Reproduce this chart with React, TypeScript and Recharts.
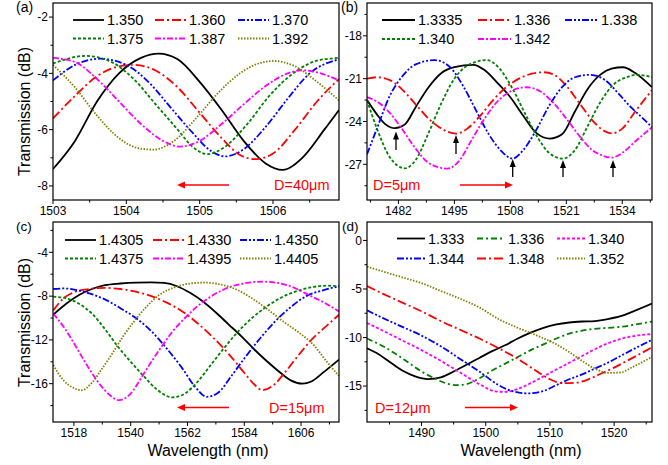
import { LineChart, Line, XAxis, YAxis } from "recharts";

type Pt = [number, number];

const W = 668;
const H = 465;
const FONT = "'Liberation Sans', Arial, sans-serif";

// ---- panel (a), D=40um
const aNames = ["1.350", "1.360", "1.370", "1.375", "1.387", "1.392"];
const a1350: Pt[] = [[1503, -7.4], [1503.3, -6.4], [1503.6, -5.0], [1503.9, -4.0], [1504.2, -3.45], [1504.44, -3.3], [1504.7, -3.5], [1505.0, -4.3], [1505.3, -5.3], [1505.6, -6.4], [1505.9, -7.2], [1506.13, -7.43], [1506.4, -7.0], [1506.7, -6.0], [1506.9, -5.3]];
const a1360: Pt[] = [[1503, -5.6], [1503.3, -4.8], [1503.6, -4.1], [1503.9, -3.75], [1504.1, -3.7], [1504.4, -3.9], [1504.7, -4.5], [1505.0, -5.4], [1505.3, -6.3], [1505.55, -6.9], [1505.75, -7.05], [1506.0, -6.85], [1506.3, -6.0], [1506.6, -5.0], [1506.9, -4.2]];
const a1370: Pt[] = [[1503, -4.25], [1503.3, -3.7], [1503.64, -3.48], [1504.0, -3.7], [1504.3, -4.3], [1504.6, -5.2], [1504.9, -6.1], [1505.15, -6.75], [1505.35, -6.95], [1505.6, -6.7], [1505.9, -5.9], [1506.2, -4.9], [1506.5, -4.0], [1506.9, -3.5]];
const a1375: Pt[] = [[1503, -3.65], [1503.44, -3.38], [1503.8, -3.6], [1504.1, -4.2], [1504.4, -5.1], [1504.7, -6.0], [1504.9, -6.6], [1505.1, -6.87], [1505.35, -6.6], [1505.65, -5.8], [1505.95, -4.8], [1506.3, -3.95], [1506.6, -3.55], [1506.9, -3.45]];
const a1387: Pt[] = [[1503, -3.45], [1503.3, -3.6], [1503.6, -4.2], [1503.9, -5.0], [1504.2, -5.8], [1504.5, -6.4], [1504.73, -6.6], [1505.0, -6.4], [1505.3, -5.8], [1505.6, -5.1], [1505.9, -4.45], [1506.2, -4.0], [1506.4, -3.89], [1506.65, -4.0], [1506.9, -4.25]];
const a1392: Pt[] = [[1503, -3.7], [1503.3, -4.5], [1503.6, -5.5], [1503.9, -6.3], [1504.15, -6.65], [1504.37, -6.71], [1504.65, -6.4], [1504.95, -5.6], [1505.25, -4.7], [1505.55, -4.0], [1505.8, -3.65], [1506.0, -3.56], [1506.3, -3.75], [1506.6, -4.3], [1506.9, -4.96]];
const aXTicks = [1503, 1503.5, 1504, 1504.5, 1505, 1505.5, 1506, 1506.5];
const aXMajor = [1503, 1504, 1505, 1506];
const aYTicks = [-2, -3, -4, -5, -6, -7, -8];
const aYMajor = [-2, -4, -6, -8];

// ---- panel (b), D=5um
const bNames = ["1.3335", "1.336", "1.338", "1.340", "1.342"];
const b13335: Pt[] = [[1474.7, -22.5], [1477, -23.5], [1479, -24.2], [1481.2, -24.47], [1483.5, -24.2], [1486, -23.0], [1489, -21.6], [1492, -20.6], [1495, -20.2], [1499.4, -20.03], [1502, -20.4], [1505, -21.3], [1508, -22.3], [1511, -23.6], [1514, -24.8], [1517.2, -25.2], [1520, -24.9], [1523, -23.3], [1526, -21.7], [1529, -20.7], [1531.5, -20.3], [1534.2, -20.2], [1537, -20.6], [1540.9, -21.6]];
const b1336: Pt[] = [[1474.7, -21.0], [1477, -20.9], [1480, -21.1], [1483, -21.8], [1486, -22.8], [1489, -23.8], [1492, -24.5], [1495.4, -24.85], [1498, -24.5], [1501, -23.6], [1504, -22.5], [1507, -21.6], [1510, -21.0], [1513, -20.65], [1515.7, -20.55], [1518, -20.7], [1521, -21.5], [1524, -22.7], [1527, -23.9], [1529.5, -24.6], [1531.5, -24.83], [1534, -24.5], [1537, -23.3], [1540.9, -21.8]];
const b1338: Pt[] = [[1474.7, -26.3], [1477, -24.5], [1480, -22.2], [1483, -20.8], [1486, -20.0], [1490.4, -19.7], [1494, -20.2], [1497, -21.5], [1500, -23.2], [1503, -24.9], [1506, -26.1], [1508.5, -26.6], [1511, -26.0], [1514, -24.6], [1517, -22.9], [1520, -21.6], [1523, -20.9], [1526.5, -20.73], [1530, -21.1], [1533, -22.0], [1536, -23.0], [1538.5, -23.7], [1540.9, -24.4]];
const b1340: Pt[] = [[1474.7, -22.5], [1477, -24.5], [1480, -26.5], [1483.5, -27.28], [1486, -26.7], [1489, -24.8], [1492, -22.7], [1495, -21.0], [1498.5, -20.0], [1502.5, -19.7], [1505.5, -20.3], [1508.5, -21.7], [1511.5, -23.5], [1514.5, -25.2], [1517, -26.2], [1520.2, -26.6], [1523, -26.0], [1526, -24.3], [1529, -22.6], [1532, -21.4], [1535, -20.9], [1537.3, -20.73], [1540.9, -20.9]];
const b1342: Pt[] = [[1474.7, -22.3], [1477, -22.6], [1480, -23.4], [1483, -24.6], [1486, -25.9], [1489, -26.9], [1493.4, -27.3], [1496, -26.8], [1499, -25.3], [1502, -23.8], [1505, -22.6], [1508, -21.9], [1511.8, -21.6], [1515, -21.9], [1518, -22.7], [1521, -23.8], [1524, -25.0], [1527, -26.0], [1529.5, -26.4], [1531.5, -26.53], [1534, -26.2], [1537, -25.4], [1540.9, -24.4]];
const bXTicks = [1475.5, 1482, 1488.5, 1495, 1501.5, 1508, 1514.5, 1521, 1527.5, 1534, 1540.5];
const bXMajor = [1482, 1495, 1508, 1521, 1534];
const bYTicks = [-16.5, -18, -19.5, -21, -22.5, -24, -25.5, -27, -28.5];
const bYMajor = [-18, -21, -24, -27];

// ---- panel (c), D=15um
const cNames = ["1.4305", "1.4330", "1.4350", "1.4375", "1.4395", "1.4405"];
const c14305: Pt[] = [[1510, -9.7], [1515, -8.7], [1520, -7.9], [1525, -7.35], [1530, -7.0], [1536, -6.85], [1542, -6.77], [1548, -6.75], [1553, -6.8], [1558, -7.1], [1563, -7.7], [1568, -8.5], [1573, -9.5], [1578, -10.6], [1583, -11.7], [1588, -12.9], [1593, -14.0], [1598, -15.0], [1602, -15.7], [1606.5, -16.0], [1610, -15.8], [1615, -14.9], [1620.7, -13.8]];
const c14330: Pt[] = [[1510, -9.3], [1514, -8.2], [1518, -7.65], [1524, -7.35], [1530, -7.25], [1536, -7.35], [1542, -7.6], [1548, -8.0], [1554, -8.6], [1560, -9.4], [1566, -10.5], [1572, -11.8], [1578, -13.3], [1584, -15.0], [1588, -16.1], [1591, -16.6], [1595, -16.2], [1600, -14.9], [1605, -13.4], [1610, -12.0], [1615, -10.9], [1620.7, -9.7]];
const c14350: Pt[] = [[1510, -7.35], [1514, -7.3], [1518, -7.4], [1524, -7.75], [1530, -8.3], [1536, -9.1], [1542, -10.0], [1548, -11.2], [1554, -12.8], [1560, -14.6], [1565, -16.3], [1569.4, -17.2], [1574, -16.8], [1579, -15.3], [1584, -13.7], [1590, -11.9], [1596, -10.3], [1602, -9.0], [1608, -8.0], [1614, -7.5], [1620.7, -7.1]];
const c14375: Pt[] = [[1510, -8.05], [1515, -8.2], [1520, -8.7], [1525, -9.6], [1530, -11.0], [1535, -12.6], [1540, -14.0], [1545, -15.3], [1550, -16.5], [1556, -17.25], [1561, -16.9], [1566, -15.8], [1571, -14.3], [1576, -12.8], [1581, -11.4], [1587, -10.0], [1593, -8.9], [1599, -8.05], [1605, -7.5], [1611, -7.15], [1616, -7.05], [1620.7, -7.1]];
const c14395: Pt[] = [[1510, -9.6], [1514, -10.8], [1518, -12.3], [1522, -13.9], [1526, -15.4], [1530, -16.6], [1535.5, -17.5], [1540, -16.9], [1544, -15.5], [1548, -14.0], [1552, -12.6], [1556, -11.3], [1561, -10.0], [1566, -8.9], [1572, -7.9], [1578, -7.2], [1585, -6.8], [1591, -6.68], [1597, -6.8], [1603, -7.2], [1609, -7.9], [1615, -8.6], [1620.7, -9.4]];
const c14405: Pt[] = [[1510, -14.3], [1514, -15.7], [1518, -16.4], [1521, -16.6], [1525, -15.9], [1529, -14.6], [1533, -13.2], [1537, -11.7], [1541, -10.4], [1546, -9.0], [1551, -7.9], [1557, -7.2], [1563, -6.85], [1569, -6.77], [1575, -6.95], [1581, -7.4], [1587, -8.2], [1593, -9.2], [1599, -10.3], [1605, -11.3], [1611, -12.5], [1616, -14.0], [1620.7, -15.3]];
const cXTicks = [1518, 1529, 1540, 1551, 1562, 1573, 1584, 1595, 1606, 1617];
const cXMajor = [1518, 1540, 1562, 1584, 1606];
const cYTicks = [-2, -4, -6, -8, -10, -12, -14, -16, -18];
const cYMajor = [-4, -8, -12, -16];

// ---- panel (d), D=12um
const dNames = ["1.333", "1.336", "1.340", "1.344", "1.348", "1.352"];
const d1333: Pt[] = [[1481.5, -11.1], [1483, -11.6], [1485, -12.5], [1487, -13.4], [1489, -14.0], [1491, -14.28], [1493, -14.1], [1495, -13.5], [1497, -12.8], [1499, -12.1], [1501, -11.4], [1503, -10.8], [1505, -10.1], [1507, -9.5], [1509, -9.0], [1511, -8.65], [1513, -8.45], [1515, -8.35], [1517, -8.3], [1519, -8.1], [1521, -7.8], [1523, -7.3], [1525.9, -6.5]];
const d1336: Pt[] = [[1481.5, -10.1], [1484, -10.9], [1486, -11.7], [1488, -12.6], [1490, -13.5], [1492, -14.2], [1494, -14.75], [1495.5, -14.9], [1497, -14.8], [1499, -14.2], [1501, -13.4], [1503, -12.7], [1505, -12.0], [1507, -11.3], [1509, -10.7], [1511, -10.1], [1513, -9.6], [1515, -9.3], [1517, -9.1], [1519, -9.0], [1521, -8.9], [1523, -8.7], [1525.9, -8.35]];
const d1340: Pt[] = [[1481.5, -8.5], [1484, -9.3], [1487, -10.3], [1490, -11.3], [1493, -12.4], [1496, -13.6], [1499, -14.8], [1501.5, -15.55], [1503, -15.6], [1505, -15.3], [1507, -14.7], [1509, -14.0], [1511, -13.3], [1513, -12.6], [1515, -11.9], [1517, -11.2], [1519, -10.6], [1521, -10.15], [1523, -9.85], [1525.9, -9.65]];
const d1344: Pt[] = [[1481.5, -7.2], [1484, -8.0], [1487, -8.9], [1490, -9.8], [1493, -10.9], [1496, -12.2], [1499, -13.5], [1502, -14.9], [1504, -15.5], [1506.5, -15.75], [1509, -15.5], [1511, -14.9], [1513, -14.3], [1515, -13.8], [1517, -13.2], [1519, -12.6], [1521, -11.9], [1523, -11.2], [1525.9, -10.25]];
const d1348: Pt[] = [[1481.5, -4.7], [1484, -5.5], [1487, -6.4], [1490, -7.3], [1493, -8.3], [1496, -9.2], [1499, -10.1], [1502, -11.1], [1505, -12.2], [1508, -13.5], [1510, -14.3], [1512, -14.7], [1514, -14.65], [1516, -14.3], [1518, -13.7], [1520, -13.1], [1522, -12.4], [1524, -11.7], [1525.9, -11.0]];
const d1352: Pt[] = [[1481.5, -2.7], [1484, -3.2], [1487, -3.8], [1490, -4.4], [1493, -5.2], [1496, -6.0], [1499, -6.9], [1502, -8.1], [1505, -9.0], [1508, -9.8], [1511, -10.7], [1513, -11.5], [1515, -12.4], [1517, -13.2], [1519, -13.65], [1521, -13.6], [1523, -13.0], [1525.9, -12.0]];
const dXTicks = [1485, 1490, 1495, 1500, 1505, 1510, 1515, 1520, 1525];
const dXMajor = [1490, 1500, 1510, 1520];
const dYTicks = [0, -2.5, -5, -7.5, -10, -12.5, -15, -17.5];
const dYMajor = [0, -5, -10, -15];

// line styles
const SOLID = { color: "#000000", dash: undefined as string | undefined };
const RED = { color: "#ff0000", dash: "9 3 2 3" };
const BLUE = { color: "#0000ff", dash: "7 2 2 2 2 2" };
const GREEN = { color: "#008000", dash: "3 2" };
const MAGENTA = { color: "#ff00ff", dash: "6 2 2 2" };
const OLIVE = { color: "#808000", dash: "1.5 1.5" };
const GREEN_DD = { color: "#008000", dash: "6 3 2 3" };
const MAGENTA_D = { color: "#ff00ff", dash: "3 2" };

type Style = { color: string; dash?: string };
type Series = { name: string; pts: Pt[]; style: Style };

const mk = (names: string[], pts: Pt[][], styles: Style[]): Series[] =>
  names.map((n, i) => ({ name: n, pts: pts[i], style: styles[i] }));

const aSeries = mk(aNames, [a1350, a1360, a1370, a1375, a1387, a1392], [SOLID, RED, BLUE, GREEN, MAGENTA, OLIVE]);
const bSeries = mk(bNames, [b13335, b1336, b1338, b1340, b1342], [SOLID, RED, BLUE, GREEN, MAGENTA]);
const cSeries = mk(cNames, [c14305, c14330, c14350, c14375, c14395, c14405], [SOLID, RED, BLUE, GREEN, MAGENTA, OLIVE]);
const dSeries = mk(dNames, [d1333, d1336, d1340, d1344, d1348, d1352], [SOLID, GREEN_DD, MAGENTA_D, BLUE, RED, OLIVE]);

type Box = [number, number, number, number];
const boxA: Box = [53, 3, 339, 200];
const boxB: Box = [367, 3, 652, 200];
const boxC: Box = [53, 222, 339, 422];
const boxD: Box = [367, 222, 652, 422];

const isMajor = (majors: number[], v: number) => majors.some((m) => Math.abs(m - v) < 1e-6);

const bottomTick = (majors: number[]) => (props: any) => {
  const { x, y, payload } = props;
  const major = isMajor(majors, payload.value);
  return (
    <g>
      <line x1={x} y1={y} x2={x} y2={y + (major ? 4 : 2.5)} stroke="#000" />
      {major && (
        <text x={x} y={y + 15} textAnchor="middle" fontSize={12} fontFamily={FONT} fill="#000">
          {payload.value}
        </text>
      )}
    </g>
  );
};

const leftTick = (majors: number[]) => (props: any) => {
  const { x, y, payload } = props;
  const major = isMajor(majors, payload.value);
  return (
    <g>
      <line x1={x} y1={y} x2={x - (major ? 4 : 2.5)} y2={y} stroke="#000" />
      {major && (
        <text x={x - 5} y={y} dy="0.35em" textAnchor="end" fontSize={12} fontFamily={FONT} fill="#000">
          {payload.value}
        </text>
      )}
    </g>
  );
};

function Panel(p: {
  box: Box;
  xDomain: [number, number];
  yDomain: [number, number];
  xTicks: number[];
  xMajor: number[];
  yTicks: number[];
  yMajor: number[];
  series: Series[];
}) {
  const [x0, y0, x1, y1] = p.box;
  const margin = { left: x0 - 40, top: y0, right: W - x1, bottom: H - y1 - 20 };
  return (
    <div style={{ position: "absolute", left: 0, top: 0 }}>
      <LineChart width={W} height={H} margin={margin}>
        <XAxis
          type="number"
          dataKey="x"
          domain={p.xDomain}
          ticks={p.xTicks}
          interval={0}
          allowDataOverflow
          height={20}
          tickSize={0}
          tickMargin={0}
          axisLine={false}
          tickLine={false}
          tick={bottomTick(p.xMajor)}
        />
        <YAxis
          type="number"
          dataKey="y"
          domain={p.yDomain}
          ticks={p.yTicks}
          interval={0}
          allowDataOverflow
          width={40}
          tickSize={0}
          tickMargin={0}
          axisLine={false}
          tickLine={false}
          tick={leftTick(p.yMajor)}
        />
        {p.series.map((s) => (
          <Line
            key={s.name}
            data={s.pts.map(([x, y]) => ({ x, y }))}
            dataKey="y"
            type="monotone"
            stroke={s.style.color}
            strokeDasharray={s.style.dash}
            strokeWidth={1.8}
            dot={false}
            isAnimationActive={false}
          />
        ))}
      </LineChart>
    </div>
  );
}

function Legend({ series, cols, rows, len }: { series: Series[]; cols: number[]; rows: number[]; len: number }) {
  return (
    <g>
      {series.map((s, i) => {
        const x = cols[i % 3];
        const y = rows[Math.floor(i / 3)];
        return (
          <g key={s.name}>
            <line x1={x} y1={y} x2={x + len} y2={y} stroke={s.style.color} strokeDasharray={s.style.dash} strokeWidth={1.8} />
            <text x={x + len + 3} y={y} dy="0.35em" fontSize={14.5} fontFamily={FONT} fill="#000">
              {s.name}
            </text>
          </g>
        );
      })}
    </g>
  );
}

function Arrow({ x1, x2, y, color }: { x1: number; x2: number; y: number; color: string }) {
  const d = x2 > x1 ? 1 : -1;
  return (
    <g>
      <line x1={x1} y1={y} x2={x2 - d * 6} y2={y} stroke={color} strokeWidth={1.5} />
      <polygon points={`${x2},${y} ${x2 - d * 8},${y - 3.5} ${x2 - d * 8},${y + 3.5}`} fill={color} />
    </g>
  );
}

function UpArrow({ x, y1, y2 }: { x: number; y1: number; y2: number }) {
  return (
    <g>
      <line x1={x} y1={y2} x2={x} y2={y1 + 5} stroke="#000" strokeWidth={1.3} />
      <polygon points={`${x},${y1} ${x - 3},${y1 + 8} ${x + 3},${y1 + 8}`} fill="#000" />
    </g>
  );
}

function Frame({ box }: { box: Box }) {
  const [x0, y0, x1, y1] = box;
  return <rect x={x0} y={y0} width={x1 - x0} height={y1 - y0} fill="none" stroke="#000" strokeWidth={1.2} />;
}

export default function App() {
  return (
    <div style={{ position: "absolute", left: 0, top: 0, width: W, height: H, background: "#fff", fontFamily: FONT }}>
      <Panel box={boxA} xDomain={[1503, 1506.9]} yDomain={[-8.5, -1.5]} xTicks={aXTicks} xMajor={aXMajor} yTicks={aYTicks} yMajor={aYMajor} series={aSeries} />
      <Panel box={boxB} xDomain={[1474.7, 1540.9]} yDomain={[-29.5, -15.7]} xTicks={bXTicks} xMajor={bXMajor} yTicks={bYTicks} yMajor={bYMajor} series={bSeries} />
      <Panel box={boxC} xDomain={[1509.9, 1620.7]} yDomain={[-19.5, -1.23]} xTicks={cXTicks} xMajor={cXMajor} yTicks={cYTicks} yMajor={cYMajor} series={cSeries} />
      <Panel box={boxD} xDomain={[1481.5, 1525.9]} yDomain={[-18.7, 1.9]} xTicks={dXTicks} xMajor={dXMajor} yTicks={dYTicks} yMajor={dYMajor} series={dSeries} />
      <svg width={W} height={H} style={{ position: "absolute", left: 0, top: 0 }}>
        <Frame box={boxA} />
        <Frame box={boxB} />
        <Frame box={boxC} />
        <Frame box={boxD} />

        <Legend series={aSeries} cols={[73, 155, 238]} rows={[20, 38.5]} len={31} />
        <Legend series={bSeries} cols={[382, 478, 565]} rows={[20, 39]} len={33} />
        <Legend series={cSeries} cols={[65, 153, 240]} rows={[240, 258.5]} len={31} />
        <Legend series={dSeries} cols={[397, 477, 557]} rows={[238.5, 258.5]} len={28} />

        <Arrow x1={229} x2={177} y={185} color="#ff0000" />
        <Arrow x1={460} x2={513} y={185} color="#ff0000" />
        <Arrow x1={229} x2={177} y={407.5} color="#ff0000" />
        <Arrow x1={465} x2={518} y={407.5} color="#ff0000" />

        <text x={274} y={185} dy="0.35em" fontSize={14.5} fill="#ff0000" fontFamily={FONT}>D=40μm</text>
        <text x={373} y={185} dy="0.35em" fontSize={14.5} fill="#ff0000" fontFamily={FONT}>D=5μm</text>
        <text x={269} y={407.5} dy="0.35em" fontSize={14.5} fill="#ff0000" fontFamily={FONT}>D=15μm</text>
        <text x={375} y={407.5} dy="0.35em" fontSize={14.5} fill="#ff0000" fontFamily={FONT}>D=12μm</text>

        <UpArrow x={396} y1={131.5} y2={150} />
        <UpArrow x={456} y1={135} y2={154} />
        <UpArrow x={512.7} y1={159} y2={177} />
        <UpArrow x={563} y1={160} y2={177} />
        <UpArrow x={613} y1={160} y2={177} />

        <text x={16} y={7} dy="0.35em" fontSize={14} fontFamily={FONT}>(a)</text>
        <text x={341} y={7.5} dy="0.35em" fontSize={14} fontFamily={FONT}>(b)</text>
        <text x={16} y={226} dy="0.35em" fontSize={13.5} fontFamily={FONT}>(c)</text>
        <text x={342} y={226} dy="0.35em" fontSize={13.5} fontFamily={FONT}>(d)</text>

        <text transform="translate(24.5,111.5) rotate(-90)" textAnchor="middle" dy="0.35em" fontSize={16} fontFamily={FONT}>
          Transmission (dB)
        </text>
        <text transform="translate(24.5,322.5) rotate(-90)" textAnchor="middle" dy="0.35em" fontSize={16} fontFamily={FONT}>
          Transmission (dB)
        </text>
        <text x={208} y={450} textAnchor="middle" dy="0.35em" fontSize={16} fontFamily={FONT}>
          Wavelength (nm)
        </text>
        <text x={521} y={450} textAnchor="middle" dy="0.35em" fontSize={16} fontFamily={FONT}>
          Wavelength (nm)
        </text>
      </svg>
    </div>
  );
}
